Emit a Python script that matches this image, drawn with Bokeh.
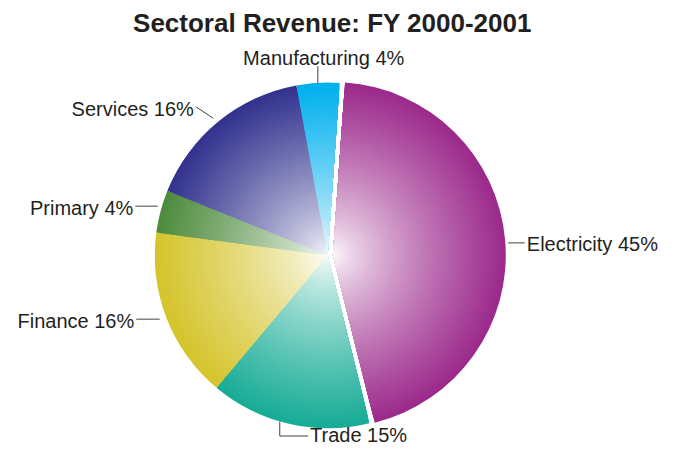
import numpy as np
from bokeh.plotting import figure
from bokeh.models import Range1d, ColumnDataSource
from bokeh.core.properties import value
from bokeh.embed import file_html
from bokeh.resources import INLINE

# ---- data ----
title_text = "Sectoral Revenue: FY 2000-2001"
sectors = ["Electricity", "Trade", "Finance", "Primary", "Services", "Manufacturing"]
shares = [45, 15, 16, 4, 16, 4]
colors = ["#9C2A8C", "#17AC96", "#D5C42C", "#4E8B3E", "#33338F", "#00B0EE"]

# ---- layout (reference pixel coordinates) ----
H = 466
CX, CY = 335, 264
R = 177
START = 86
EXPLODE = {"Electricity": 5.5}
N = 60
label_pos = {
    "Electricity": (539, 252, "left"),
    "Trade": (317, 450, "left"),
    "Finance": (137, 332, "right"),
    "Primary": (136, 215, "right"),
    "Services": (198, 112, "right"),
    "Manufacturing": (331, 60, "center"),
}
leaders = {
    "Electricity": [(520, 251), (537, 251)],
    "Trade": [(286, 436), (286, 451), (315, 451)],
    "Finance": [(139, 330), (163, 330)],
    "Primary": [(138, 213), (161, 213)],
    "Services": [(200, 110), (218, 122)],
    "Manufacturing": [(325, 68), (325, 86)],
}

p = figure(width=663, height=450, x_range=Range1d(0, 679), y_range=Range1d(0, 466),
           output_backend="svg", toolbar_location=None, min_border=0)
p.axis.visible = False
p.grid.visible = False
p.outline_line_color = None


def mix(c, t):
    r, g, b = int(c[1:3], 16), int(c[3:5], 16), int(c[5:7], 16)
    r = round(255 + (r - 255) * t)
    g = round(255 + (g - 255) * t)
    b = round(255 + (b - 255) * t)
    return "#%02x%02x%02x" % (r, g, b)


rows = []
total = sum(shares)
a = START
for name, s, c in zip(sectors, shares, colors):
    span = s / total * 360
    a0, a1 = a - span, a
    mid = np.radians((a0 + a1) / 2)
    off = EXPLODE.get(name, 0)
    cx = CX + off * np.cos(mid)
    cy = (H - CY) + off * np.sin(mid)
    for k in range(N):
        f = 1 - k / N
        t = f ** 0.75
        rows.append((R * f, cx, cy, np.radians(a0), np.radians(a1), mix(c, t)))
    a = a0

rows.sort(key=lambda r: -r[0])
src = ColumnDataSource(dict(
    r=[r[0] for r in rows], x=[r[1] for r in rows], y=[r[2] for r in rows],
    sa=[r[3] for r in rows], ea=[r[4] for r in rows], c=[r[5] for r in rows]))
p.wedge(x="x", y="y", radius="r", start_angle="sa", end_angle="ea",
        fill_color="c", line_color=None, source=src)

# leaders
p.multi_line(xs=[[q[0] for q in leaders[n]] for n in sectors],
             ys=[[H - q[1] for q in leaders[n]] for n in sectors],
             line_color="#444444", line_width=1)

# labels
for name, s in zip(sectors, shares):
    x, y, al = label_pos[name]
    p.text(x=[x], y=[H - y], text=[f"{name} {s}%"], text_align=al, text_baseline="middle",
           text_font=value("Liberation Sans"), text_font_size="20px", text_color="#231F20")

p.text(x=[340], y=[H - 23], text=[title_text], text_align="center", text_baseline="middle",
       text_font=value("Liberation Sans"), text_font_size="26px", text_font_style="bold",
       text_color="#231F20")

open("out.html", "w").write(file_html(p, INLINE))
